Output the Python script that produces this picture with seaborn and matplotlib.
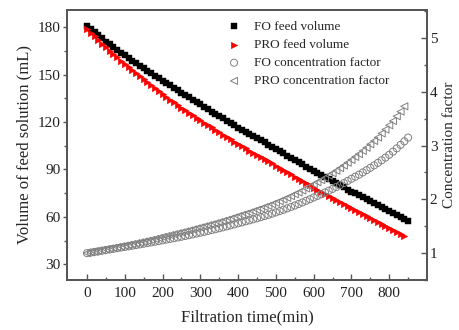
import matplotlib
matplotlib.use("Agg")
import matplotlib.pyplot as plt
from matplotlib.ticker import MultipleLocator
import seaborn as sns

# time axis (min), one reading every 10 min
time_fo = list(range(0, 860, 10))
time_pro = list(range(0, 850, 10))

fo_volume = [181, 179, 177, 175, 173, 171, 169.3, 167.6, 165.8, 164,
             162.3, 160.7, 159, 157.4, 155.8, 154.2, 152.6, 151, 149.4, 147.8,
             146.2, 144.7, 143.2, 141.7, 140.2, 138.7, 137.2, 135.7, 134.2, 132.7,
             131.2, 129.7, 128.2, 126.7, 125.3, 123.8, 122.3, 120.9, 119.4, 118,
             116.5, 115.2, 113.8, 112.5, 111.1, 109.8, 108.5, 107.1, 105.8, 104.4,
             103, 101.6, 100.2, 98.8, 97.4, 96, 94.6, 93.2, 91.8, 90.4,
             89, 87.7, 86.4, 85.1, 83.8, 82.5, 81.2, 79.9, 78.6, 77.3,
             76, 74.8, 73.6, 72.4, 71.2, 70, 68.8, 67.6, 66.4, 65.2,
             64, 62.7, 61.4, 60.1, 58.8, 57.5]

pro_volume = [179, 176.7, 174.3, 172, 169.7, 167.3, 165, 163, 161, 159,
              157, 155, 153, 151.1, 149.2, 147.3, 145.4, 143.5, 141.6, 139.6,
              137.6, 135.9, 134.2, 132.5, 130.8, 129.2, 127.6, 126, 124.3, 122.7,
              121.1, 119.6, 118.1, 116.6, 115.1, 113.6, 112.1, 110.6, 109.1, 107.6,
              106.1, 104.7, 103.4, 102, 100.6, 99.3, 97.9, 96.5, 95.2, 93.8,
              92.5, 91.1, 89.7, 88.3, 86.9, 85.5, 84.1, 82.7, 81.3, 79.9,
              78.5, 77.2, 75.9, 74.6, 73.3, 72, 70.7, 69.4, 68.1, 66.8,
              65.5, 64.2, 63, 61.7, 60.5, 59.2, 58, 56.8, 55.5, 54.3,
              53, 51.8, 50.5, 49.3, 48]

fo_cf = [1.000, 1.011, 1.023, 1.034, 1.046, 1.058, 1.069, 1.080, 1.092, 1.104,
         1.115, 1.126, 1.138, 1.150, 1.162, 1.174, 1.186, 1.199, 1.212, 1.225,
         1.238, 1.251, 1.264, 1.277, 1.291, 1.305, 1.319, 1.334, 1.349, 1.364,
         1.380, 1.396, 1.412, 1.429, 1.445, 1.462, 1.480, 1.497, 1.516, 1.534,
         1.554, 1.571, 1.591, 1.609, 1.629, 1.648, 1.668, 1.690, 1.711, 1.734,
         1.757, 1.781, 1.806, 1.832, 1.858, 1.885, 1.913, 1.942, 1.972, 2.002,
         2.034, 2.064, 2.095, 2.127, 2.160, 2.194, 2.229, 2.265, 2.303, 2.342,
         2.382, 2.420, 2.459, 2.500, 2.542, 2.586, 2.631, 2.678, 2.726, 2.776,
         2.828, 2.887, 2.948, 3.012, 3.078, 3.148]

pro_cf = [1.000, 1.013, 1.027, 1.041, 1.055, 1.070, 1.085, 1.098, 1.112, 1.126,
          1.140, 1.155, 1.170, 1.185, 1.200, 1.215, 1.231, 1.247, 1.264, 1.282,
          1.301, 1.317, 1.334, 1.351, 1.369, 1.385, 1.403, 1.421, 1.440, 1.459,
          1.478, 1.497, 1.516, 1.535, 1.555, 1.576, 1.597, 1.618, 1.641, 1.664,
          1.687, 1.710, 1.731, 1.755, 1.779, 1.803, 1.828, 1.855, 1.880, 1.908,
          1.935, 1.965, 1.996, 2.027, 2.060, 2.094, 2.128, 2.164, 2.202, 2.240,
          2.280, 2.319, 2.358, 2.399, 2.442, 2.486, 2.532, 2.579, 2.628, 2.680,
          2.733, 2.788, 2.841, 2.901, 2.959, 3.024, 3.086, 3.151, 3.225, 3.297,
          3.377, 3.456, 3.545, 3.631, 3.729]

x_ticks = [0, 100, 200, 300, 400, 500, 600, 700, 800]
x_minor = [50, 150, 250, 350, 450, 550, 650, 750, 850]

sns.set_style("ticks")
plt.rcParams['font.family'] = ['Liberation Serif', 'DejaVu Serif']
plt.rcParams['axes.edgecolor'] = '#555555'
plt.rcParams['xtick.color'] = '#555555'
plt.rcParams['ytick.color'] = '#555555'
plt.rcParams['xtick.labelcolor'] = '#222222'
plt.rcParams['ytick.labelcolor'] = '#222222'

fig = plt.figure(figsize=(4.59, 3.30), dpi=100)
ax = fig.add_axes([67 / 459, 1 - 280 / 330, 360 / 459, 270 / 330])
ax2 = ax.twinx()

sns.scatterplot(x=time_fo, y=fo_volume, ax=ax, marker='s', color='black',
                s=17, edgecolor='black', linewidth=0.3, label='FO feed volume', legend=False)
sns.scatterplot(x=time_pro, y=pro_volume, ax=ax, marker='>', color='red',
                s=22, edgecolor='red', linewidth=0.3, label='PRO feed volume', legend=False)
sns.scatterplot(x=time_fo, y=fo_cf, ax=ax2, marker='o', facecolor='none',
                edgecolor='#808080', s=26, linewidth=0.7, label='FO concentration factor', legend=False)
sns.scatterplot(x=time_pro, y=pro_cf, ax=ax2, marker='<', facecolor='none',
                edgecolor='#808080', s=26, linewidth=0.7, label='PRO concentration factor', legend=False)

ax.set_xlim(-53, 900)
ax.set_ylim(20, 191)
ax2.set_ylim(0.5, 5.52)

ax.set_xticks(x_ticks)
ax.set_xticks(x_minor, minor=True)
ax.yaxis.set_major_locator(MultipleLocator(30))
ax.yaxis.set_minor_locator(MultipleLocator(15))
ax2.yaxis.set_major_locator(MultipleLocator(1))
ax2.yaxis.set_minor_locator(MultipleLocator(0.5))

ax.tick_params(axis='x', which='major', direction='in', length=4, width=1, labelsize=11, pad=5)
ax.tick_params(axis='x', which='minor', direction='in', length=2, width=1)
ax.tick_params(axis='y', which='major', direction='out', length=3, width=1, labelsize=11, pad=1.5)
ax.tick_params(axis='y', which='minor', direction='out', length=2, width=1)
ax2.tick_params(axis='y', which='major', direction='in', length=4, width=1, labelsize=11, pad=2)
ax2.tick_params(axis='y', which='minor', direction='in', length=2, width=1)

for a in (ax, ax2):
    for sp in a.spines.values():
        sp.set_linewidth(1.3)
        sp.set_color('#555555')

ax.set_xlabel('Filtration time(min)', fontsize=12, labelpad=7)
ax.set_ylabel('Volume of feed solution (mL)', fontsize=12, labelpad=4)
ax2.set_ylabel('Concentration factor', fontsize=11, labelpad=4)

h1, l1 = ax.get_legend_handles_labels()
h2, l2 = ax2.get_legend_handles_labels()
ax2.legend(h1 + h2, l1 + l2, loc='upper left', bbox_to_anchor=(0.42, 0.99),
           frameon=False, fontsize=9.5, handletextpad=0.9, labelspacing=0.45,
           borderaxespad=0.2, handlelength=1.2)

fig.savefig('out.png', dpi=100)
